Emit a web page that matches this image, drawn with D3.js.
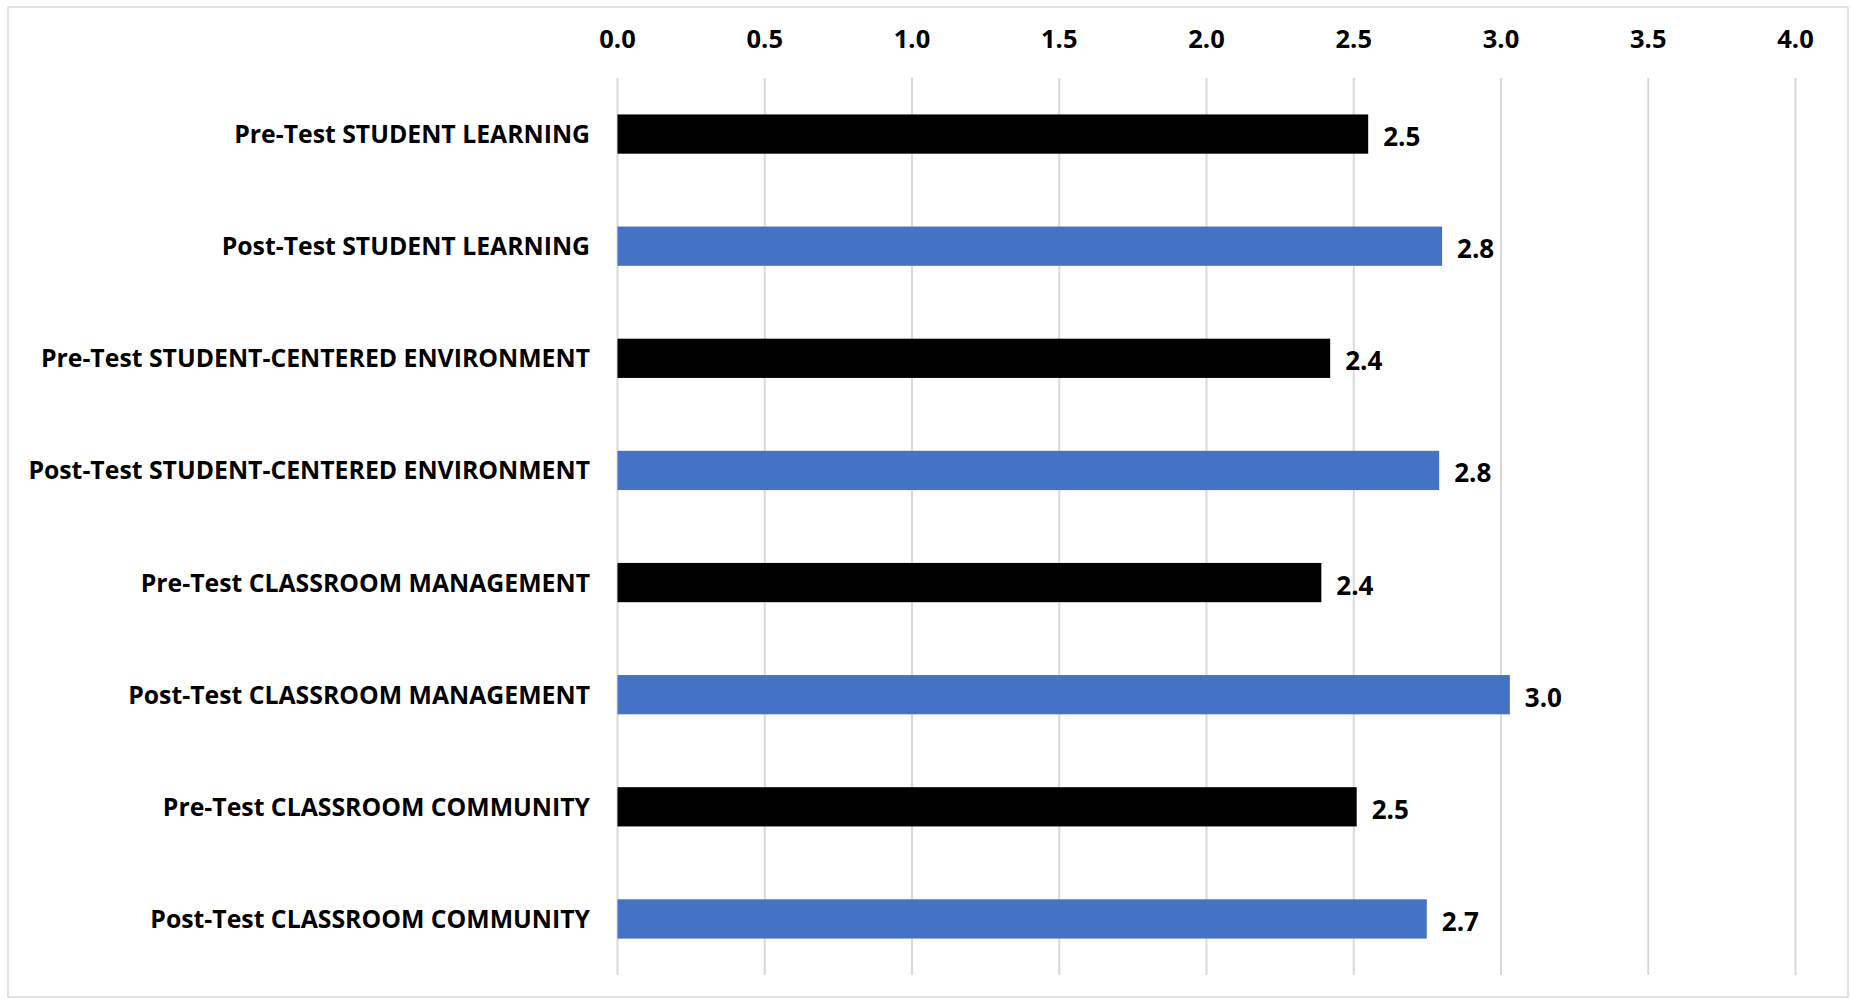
<!DOCTYPE html>
<html>
<head>
<meta charset="utf-8">
<script src="https://cdn.jsdelivr.net/npm/d3@7"></script>
<style>
  html, body { margin: 0; padding: 0; background: #fff; }
  svg { display: block; }
  text { font-family: "Open Sans", "Noto Sans", sans-serif; font-weight: bold; fill: #000; }
</style>
</head>
<body>
<svg id="chart" width="1851" height="1000"></svg>
<script>
const categories = [
  "Pre-Test STUDENT LEARNING",
  "Post-Test STUDENT LEARNING",
  "Pre-Test STUDENT-CENTERED ENVIRONMENT",
  "Post-Test STUDENT-CENTERED ENVIRONMENT",
  "Pre-Test CLASSROOM MANAGEMENT",
  "Post-Test CLASSROOM MANAGEMENT",
  "Pre-Test CLASSROOM COMMUNITY",
  "Post-Test CLASSROOM COMMUNITY"
];
const values = [2.549, 2.80, 2.42, 2.79, 2.39, 3.03, 2.51, 2.748];
const seriesType = ["pre", "post", "pre", "post", "pre", "post", "pre", "post"];
const tickValues = [0, 0.5, 1.0, 1.5, 2.0, 2.5, 3.0, 3.5, 4.0];
const colors = { pre: "#000000", post: "#4472C4" };

const svg = d3.select("#chart");

// outer border
svg.append("rect")
  .attr("x", 8).attr("y", 7).attr("width", 1840).attr("height", 990)
  .attr("fill", "none").attr("stroke", "#d9d9d9").attr("stroke-width", 1.5);

const x = d3.scaleLinear().domain([0, 4]).range([617.5, 1795.5]);
const y = d3.scaleBand().domain(categories).range([78, 975])
  .paddingInner(0.65).paddingOuter(0.325);

// gridlines
svg.append("g").selectAll("line").data(tickValues).join("line")
  .attr("x1", d => x(d)).attr("x2", d => x(d))
  .attr("y1", 78).attr("y2", 975)
  .attr("stroke", "#d9d9d9").attr("stroke-width", 2);

// top axis tick labels
const fmt = d3.format(".1f");
svg.append("g").selectAll("text").data(tickValues).join("text")
  .attr("x", d => x(d)).attr("y", 38)
  .attr("text-anchor", "middle").attr("dominant-baseline", "central")
  .style("font-size", "25.5px")
  .text(d => fmt(d));

// bars
svg.append("g").selectAll("rect").data(categories).join("rect")
  .attr("x", x(0))
  .attr("y", d => y(d))
  .attr("width", (d, i) => x(values[i]) - x(0))
  .attr("height", y.bandwidth())
  .attr("fill", (d, i) => colors[seriesType[i]]);

// category labels
svg.append("g").selectAll("text").data(categories).join("text")
  .attr("x", 590)
  .attr("y", d => y(d) + y.bandwidth() / 2 - 1)
  .attr("text-anchor", "end").attr("dominant-baseline", "central")
  .style("font-size", "24.8px")
  .text(d => d);

// value labels
svg.append("g").selectAll("text").data(categories).join("text")
  .attr("x", (d, i) => x(values[i]) + 15)
  .attr("y", d => y(d) + y.bandwidth() / 2 + 2)
  .attr("text-anchor", "start").attr("dominant-baseline", "central")
  .style("font-size", "26px")
  .text((d, i) => fmt(values[i]));
</script>
</body>
</html>
